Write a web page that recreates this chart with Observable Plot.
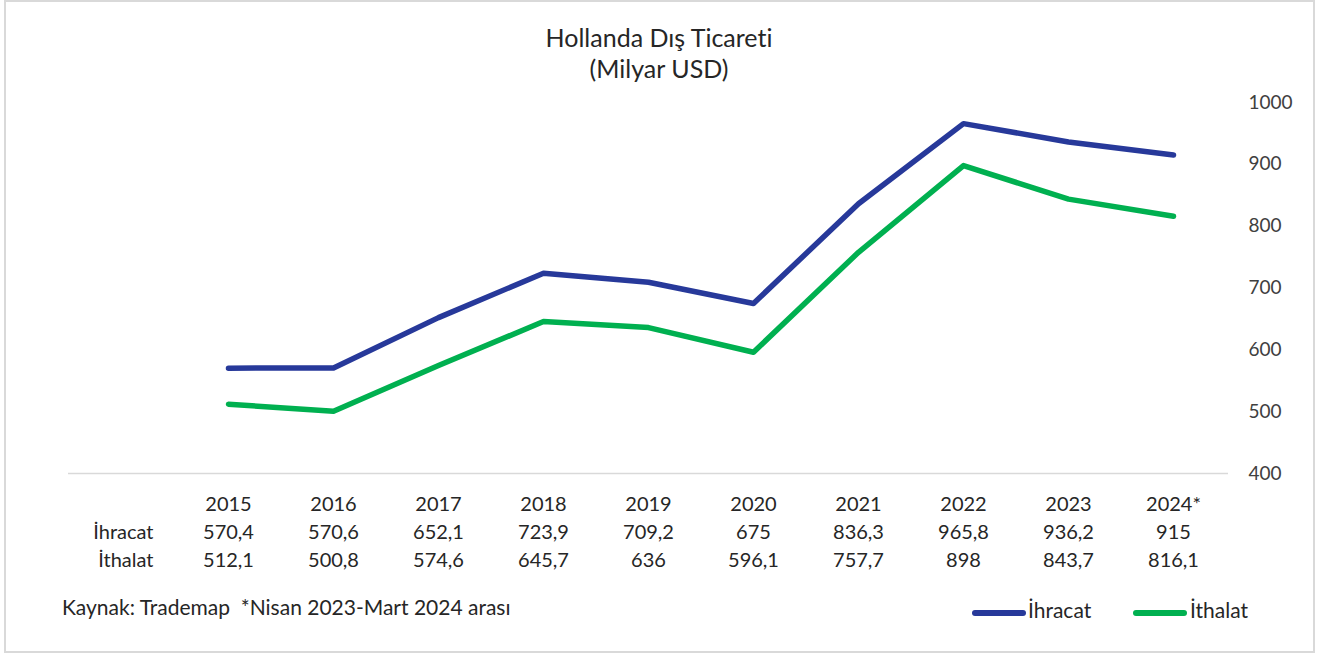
<!DOCTYPE html>
<html>
<head>
<meta charset="utf-8">
<script src="https://cdn.jsdelivr.net/npm/d3@7"></script>
<script src="https://cdn.jsdelivr.net/npm/@observablehq/plot@0.6"></script>
<style>
  html, body { margin: 0; padding: 0; background: #fff; overflow: hidden; }
  #wrap { position: relative; width: 1321px; height: 654px; font-family: Lato, "Open Sans", sans-serif; color: #262626; font-variant-ligatures: none; }
  #wrap svg text { font-variant-ligatures: none; }
  #frame { position: absolute; left: 4px; top: 0px; width: 1311px; height: 653px; border: 2px solid #d9d9d9; box-sizing: border-box; pointer-events: none; }
  .t { position: absolute; white-space: nowrap; line-height: 1; }
  #title { left: 409px; width: 500px; text-align: center; top: 25px; font-size: 25px; }
  #subtitle { left: 409px; width: 500px; text-align: center; top: 56px; font-size: 25px; }
  #source { left: 62px; top: 596px; font-size: 21px; color: #262626; }
  .sw { position: absolute; height: 5.5px; border-radius: 3px; }
  .lg { font-size: 21px; color: #262626; top: 599px; }
  #chart { position: absolute; left: 0; top: 0; }
</style>
</head>
<body>
<div id="wrap">
  <div id="chart"></div>
  <div id="title" class="t">Hollanda Dış Ticareti</div>
  <div id="subtitle" class="t">(Milyar USD)</div>
  <div id="source" class="t">Kaynak: Trademap&nbsp;&nbsp;*Nisan 2023-Mart 2024 arası</div>
  <div id="legend"></div>
  <div id="frame"></div>
</div>
<script>
const years = ["2015", "2016", "2017", "2018", "2019", "2020", "2021", "2022", "2023", "2024*"];
const ihracat = [570.4, 570.6, 652.1, 723.9, 709.2, 675, 836.3, 965.8, 936.2, 915];
const ithalat = [512.1, 500.8, 574.6, 645.7, 636, 596.1, 757.7, 898, 843.7, 816.1];
const seriesNames = ["İhracat", "İthalat"];
const seriesColors = ["#27399a", "#00b050"];
const yTicks = [400, 500, 600, 700, 800, 900, 1000];

const data = [];
years.forEach((y, i) => {
  data.push({year: y, series: seriesNames[0], value: ihracat[i]});
  data.push({year: y, series: seriesNames[1], value: ithalat[i]});
});
const fmt = v => String(v).replace(".", ",");

const chart = Plot.plot({
  width: 1321,
  height: 654,
  marginTop: 102,
  marginBottom: 181,
  marginLeft: 173,
  marginRight: 93,
  style: {fontFamily: "Lato, 'Open Sans', sans-serif", fontSize: "20px", color: "#404040", background: "transparent"},
  x: {type: "point", domain: years, padding: 0.5, axis: null},
  y: {domain: [400, 1000], axis: null},
  color: {domain: seriesNames, range: seriesColors},
  marks: [
    Plot.ruleY([400], {stroke: "#d9d9d9", strokeWidth: 1.5, insetLeft: -105}),
    Plot.axisY({anchor: "right", ticks: yTicks, tickFormat: d => String(d), tickSize: 0, tickPadding: 20, label: null, fontSize: 19, fill: "#404040"}),
    Plot.lineY(data, {x: "year", y: "value", stroke: "series", strokeWidth: 5.5, strokeLinecap: "round", strokeLinejoin: "round"}),
    Plot.text(years, {x: d => d, y: () => 400, dy: 31, fontSize: 20, fill: "#262626"}),
    Plot.text(years, {x: d => d, y: () => 400, dy: 59, text: (d, i) => fmt(ihracat[i]), fontSize: 20, fill: "#262626"}),
    Plot.text(years, {x: d => d, y: () => 400, dy: 87, text: (d, i) => fmt(ithalat[i]), fontSize: 20, fill: "#262626"}),
    Plot.text([seriesNames[0]], {frameAnchor: "left", y: () => 400, dy: 59, dx: -20, textAnchor: "end", text: d => d, fontSize: 20, fill: "#262626"}),
    Plot.text([seriesNames[1]], {frameAnchor: "left", y: () => 400, dy: 87, dx: -20, textAnchor: "end", text: d => d, fontSize: 20, fill: "#262626"})
  ]
});
document.getElementById("chart").appendChild(chart);

const legend = document.getElementById("legend");
const legendPos = [{sw: 972, tx: 1028}, {sw: 1133, tx: 1190}];
seriesNames.forEach((name, i) => {
  const sw = document.createElement("div");
  sw.className = "sw";
  sw.style.left = legendPos[i].sw + "px";
  sw.style.top = "610px";
  sw.style.width = "54px";
  sw.style.background = seriesColors[i];
  legend.appendChild(sw);
  const tx = document.createElement("div");
  tx.className = "t lg";
  tx.style.left = legendPos[i].tx + "px";
  tx.textContent = name;
  legend.appendChild(tx);
});
</script>
</body>
</html>
